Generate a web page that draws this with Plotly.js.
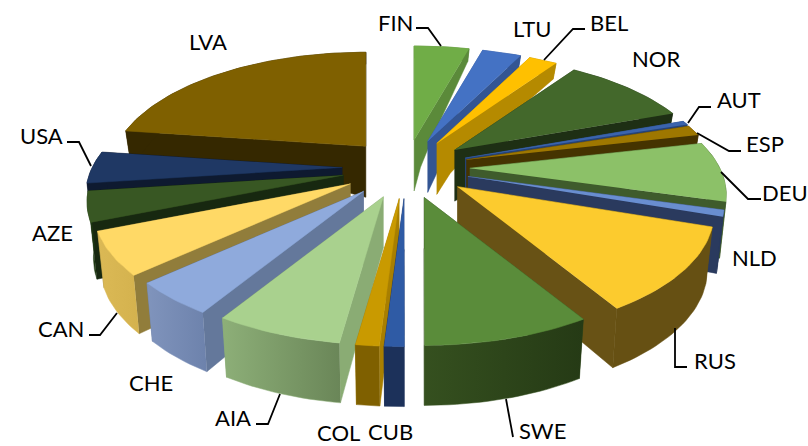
<!DOCTYPE html>
<html><head><meta charset="utf-8">
<script src="https://cdn.plot.ly/plotly-3.0.1.min.js"></script>
<style>html,body{margin:0;padding:0;background:#fff}#c{width:808px;height:446px}</style>
</head><body><div id="c"></div>
<script>
// Clockwise from 12 o'clock
const categories=['FIN','LTU','BEL','NOR','AUT','ESP','DEU','NLD','RUS','SWE','CUB','COL','AIA','CHE','CAN','AZE','USA','LVA'];
const shares=[4.3,3.05,2.2,9.85,0.55,1.4,8.05,0.85,11.1,8.6,1.0,1.2,6.53,4.44,5.69,4.03,4.31,22.78];
const topColors=['#70AD47','#4472C4','#FFC000','#43682B','#3B64AD','#9E7700','#8CC168','#698ED0','#FCCB2E','#5A8C3A','#2F5BA5','#C99A00','#A9D18E','#8FAADC','#FFD966','#385723','#1F3864','#7F6000'];
const cutColors=['#5B8A3A','#335593','#B58A00','#1E2F14','#264478','#453300','#3F5B2C','#2A3A5E','#685215','#2C4519','#1C315A','#A87F00','#8AAC74','#64789B','#917D3B','#172810','#0E1A30','#352800'];
const rimStart=['#5B8A3A','#335593','#B58A00','#1E2F14','#264478','#453300','#3F5B2C','#2A3A5E','#665013','#35501F','#1C315A','#7F6000','#8DAF78','#8094BC','#DBB955','#1E3812','#0E1A30','#352800'];
const rimEnd=['#5B8A3A','#335593','#B58A00','#1E2F14','#264478','#453300','#3F5B2C','#2A3A5E','#665013','#253A15','#1C315A','#7F6000','#6A8658','#6D82AC','#D4B24E','#1E3812','#0E1A30','#352800'];
const labelX=[395,532,609,656,739,765,785,754,715,542,390,338,233,151,61,52,41,208];
const labelY=[22,28,22,58,99,143,192,257,360,430,431,432,417,382,328,232,135,41];
const leaderNames=['FIN','BEL','AUT','ESP','DEU','RUS','SWE','AIA','CAN','USA'];
const leaderX=[[416,428,441],[585,573,544],[711,699,688],[741,729,697],[761,748,721],[687,675,675],[513,506],[256,268,280],[89,100,117],[67,79,91]];
const leaderY=[[28,28,46],[29,29,60],[107,107,123],[151,151,133],[199,199,172],[367,367,328],[437,399],[424,424,394],[335,335,313],[142,142,166]];

const CX=406,CY=167.5,RX=250,RY=115,PERSP=0.223,EXPLODE=0.255;
const proj=(X,Y)=>[RX*X/(1-PERSP*Y),RY*Y/(1-PERSP*Y)];
const deg=Math.PI/180;
const total=shares.reduce((a,b)=>a+b,0);
let run=0;
const slices=shares.map((v,i)=>{const a0=run/total*360;run+=v;const a1=run/total*360;return {i,a0,a1,mid:(a0+a1)/2};});

function depth(r,th){
  const Y=-Math.cos(th*deg);
  return 51+4*r+5*r*Math.max(Y,0)-43*Math.sqrt(r*Math.max(-Y,0));
}
function topPt(s,r,th){
  const m=proj(EXPLODE*Math.sin(s.mid*deg),-EXPLODE*Math.cos(s.mid*deg));
  const o=proj(r*Math.sin(th*deg),-r*Math.cos(th*deg));
  return [CX+m[0]+o[0],CY+m[1]+o[1],o[0]];
}
function botPt(s,r,th){
  const p=topPt(s,r,th);
  return [p[0]-0.025*p[2],p[1]+depth(r,th)];
}
function poly(pts,fill,grad){
  const t={type:'scatter',mode:'lines',x:pts.map(p=>p[0]),y:pts.map(p=>p[1]),fill:'toself',
    line:{width:0.5,color:fill},hoverinfo:'skip',showlegend:false};
  if(grad){t.fillgradient={type:'horizontal',colorscale:[[0,grad[0]],[1,grad[1]]]};}
  else t.fillcolor=fill;
  return t;
}
const radialFace=(s,th)=>{
  const up=[],dn=[];
  for(let k=0;k<=10;k++){const r=k/10;up.push(topPt(s,r,th));dn.unshift(botPt(s,r,th));}
  return up.concat(dn);
};
const order=slices.slice().sort((a,b)=>Math.cos(b.mid*deg)-Math.cos(a.mid*deg));
const traces=[];
order.forEach(s=>{
  const n=Math.max(3,Math.ceil((s.a1-s.a0)/1.5));
  const arc=[],arcB=[];
  for(let k=0;k<=n;k++){const th=s.a0+(s.a1-s.a0)*k/n;arc.push(topPt(s,1,th));arcB.unshift(botPt(s,1,th));}
  const hidden=s.mid<180?s.a0:s.a1, shown=s.mid<180?s.a1:s.a0;
  traces.push(poly(radialFace(s,hidden),cutColors[s.i]));
  traces.push(poly(radialFace(s,shown),cutColors[s.i]));
  const g=rimStart[s.i]!==rimEnd[s.i];
  traces.push(poly(arc.concat(arcB),rimStart[s.i],g?[rimStart[s.i],rimEnd[s.i]]:null));
  traces.push(poly([topPt(s,0,s.a0)].concat(arc),topColors[s.i]));
});
leaderX.forEach((xs,i)=>traces.push({type:'scatter',mode:'lines',x:xs,y:leaderY[i],line:{color:'#000',width:1.8},hoverinfo:'skip',showlegend:false,name:leaderNames[i]}));

const annotations=categories.map((c,i)=>({text:c,x:labelX[i],y:labelY[i],xref:'x',yref:'y',showarrow:false,xanchor:'center',yanchor:'middle',font:{family:'Lato',size:22,color:'#000'}}));
const hiddenAxis=r=>({range:r,autorange:false,visible:false,fixedrange:true});
Plotly.newPlot('c',traces,{width:808,height:446,margin:{l:0,r:0,t:0,b:0},paper_bgcolor:'#fff',plot_bgcolor:'#fff',
  xaxis:hiddenAxis([0,808]),yaxis:hiddenAxis([446,0]),annotations,showlegend:false},{displayModeBar:false,staticPlot:true});
</script></body></html>
